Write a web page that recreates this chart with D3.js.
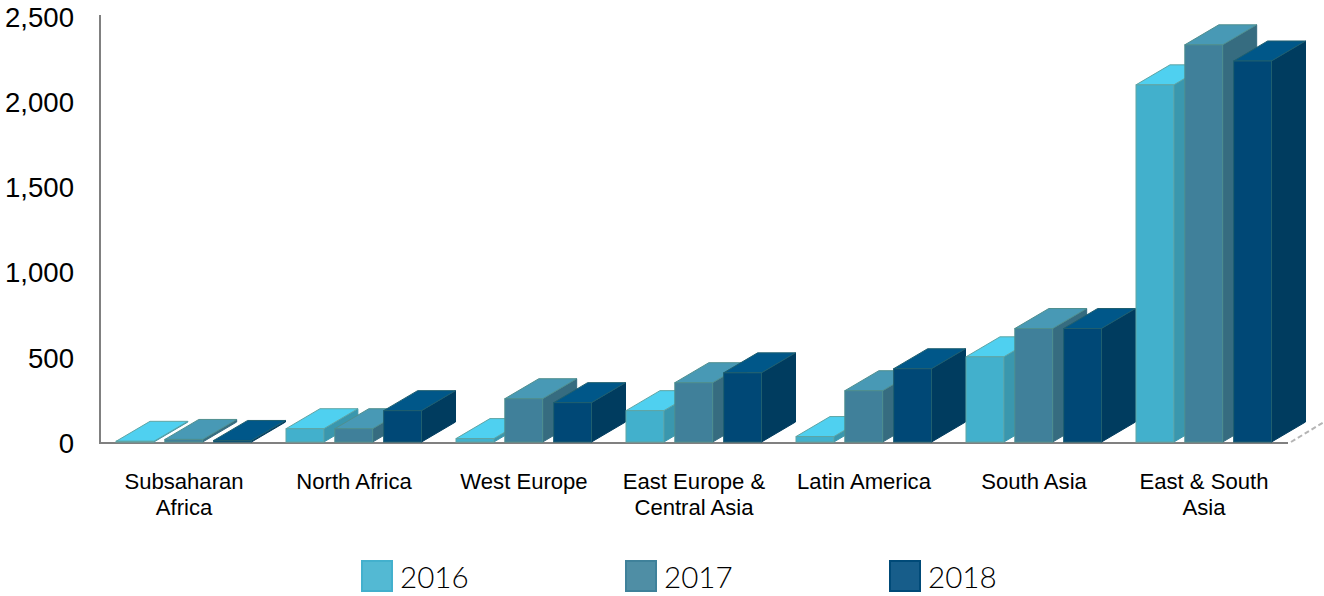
<!DOCTYPE html>
<html>
<head>
<meta charset="utf-8">
<script src="https://cdn.jsdelivr.net/npm/d3@7"></script>
<style>
  html, body { margin: 0; padding: 0; background: #fff; overflow: hidden; }
  .face { stroke-width: 1; }
  .tick-y text { font-family: "Liberation Sans", Arial, sans-serif; font-size: 27.6px; fill: #000; }
  .tick-x text { font-family: "Liberation Sans", Arial, sans-serif; font-size: 22.1px; fill: #000; }
  .legend text { font-family: Lato, sans-serif; font-weight: 300; font-size: 29.6px; fill: #000; }
</style>
</head>
<body>
<div id="chart"></div>
<script>
const categories = [
  "Subsaharan Africa", "North Africa", "West Europe", "East Europe & Central Asia",
  "Latin America", "South Asia", "East & South Asia"
];
const categoryLines = [
  ["Subsaharan", "Africa"], ["North Africa"], ["West Europe"], ["East Europe &", "Central Asia"],
  ["Latin America"], ["South Asia"], ["East & South", "Asia"]
];
const years = ["2016", "2017", "2018"];
const values2016 = [4, 78, 20, 184, 32, 500, 2096];
const values2017 = [15, 78, 254, 348, 301, 666, 2331];
const values2018 = [9, 184, 231, 406, 430, 666, 2236];
const yTicks = [0, 500, 1000, 1500, 2000, 2500];

const series = [values2016, values2017, values2018];
const frontColors = ["#42b0cc", "#40809a", "#004876"];
const topColors = ["#4fd0f0", "#4899b5", "#005789"];
const sideColors = ["#3a97ae", "#366c80", "#003c5f"];
const edgeColors = ["#5fa5a5", "#4f8f8f", "#1f5f6f"];
const legendFill = ["#53b9d3", "#4f8ea5", "#175d8a"];
const legendEdge = ["#43b0cd", "#3f819a", "#004a78"];
const legendX = [361, 625, 889];

const width = 1324, height = 596;
const depthX = 34, depthY = 20;

let svg = d3.select("#chart")
    .append("svg")
    .attr("width", width)
    .attr("height", height)
    .style("display", "block");

let x = d3.scaleBand()
    .domain(categories)
    .range([100, 1290]);

let xInner = d3.scaleBand()
    .domain(years)
    .range([16, 151.5])
    .paddingInner(0.2245);

let y = d3.scaleLinear()
    .domain([0, 2500])
    .range([442, 16]);

// floor edge going back, dashed
svg.append("line")
    .attr("x1", 1291)
    .attr("y1", y(0))
    .attr("x2", 1290 + depthX)
    .attr("y2", y(0) - depthY)
    .attr("stroke", "#b5b5b5")
    .attr("stroke-width", 2)
    .attr("stroke-dasharray", "5,3");

// axes
let yAxis = svg.append("g")
    .attr("class", "tick-y")
    .attr("transform", "translate(100,0)")
    .call(d3.axisLeft(y).tickValues(yTicks).tickFormat(d3.format(",")).tickSize(0).tickPadding(26));
yAxis.select(".domain")
    .attr("d", "M0,15V" + (y(0) + 1))
    .attr("stroke", "#808080")
    .attr("stroke-width", 2);
yAxis.selectAll("text").attr("dy", "0.37em");

let xAxis = svg.append("g")
    .attr("class", "tick-x")
    .attr("transform", "translate(0," + (y(0) + 1) + ")")
    .call(d3.axisBottom(x).tickSize(0));
xAxis.select(".domain")
    .attr("d", "M99,0H1288")
    .attr("stroke", "#808080")
    .attr("stroke-width", 2);
xAxis.selectAll("text")
    .attr("y", 0)
    .attr("dy", 0)
    .text(null)
    .each(function(d, i) {
        d3.select(this).selectAll("tspan")
            .data(categoryLines[i])
            .join("tspan")
            .attr("x", -1)
            .attr("y", (l, j) => 46 + j * 26)
            .text(l => l);
    });

// bars: side and top first, then front, left to right so nearer bars overlap
categories.forEach((cat, c) => {
    years.forEach((year, s) => {
        let x0 = x(cat) + xInner(year);
        let x1 = x0 + xInner.bandwidth();
        let yTop = y(series[s][c]);
        let yBase = y(0);
        let g = svg.append("g").attr("class", "bar");

        g.append("polygon")
            .attr("class", "face")
            .attr("points", [[x1, yTop], [x1 + depthX, yTop - depthY], [x1 + depthX, yBase - depthY], [x1, yBase]].join(" "))
            .attr("fill", sideColors[s])
            .attr("stroke", sideColors[s]);
        g.append("polygon")
            .attr("class", "face")
            .attr("points", [[x0, yTop], [x0 + depthX, yTop - depthY], [x1 + depthX, yTop - depthY], [x1, yTop]].join(" "))
            .attr("fill", topColors[s])
            .attr("stroke", edgeColors[s]);
        g.append("rect")
            .attr("class", "face")
            .attr("x", x0)
            .attr("y", yTop)
            .attr("width", x1 - x0)
            .attr("height", yBase - yTop)
            .attr("fill", frontColors[s])
            .attr("stroke", edgeColors[s]);
    });
});

// legend
let legend = svg.append("g").attr("class", "legend");
years.forEach((year, s) => {
    legend.append("rect")
        .attr("x", legendX[s] + 1)
        .attr("y", 561)
        .attr("width", 30)
        .attr("height", 30)
        .attr("fill", legendFill[s])
        .attr("stroke", legendEdge[s])
        .attr("stroke-width", 2);
    legend.append("text")
        .attr("x", legendX[s] + 39)
        .attr("y", 588)
        .text(year);
});
</script>
</body>
</html>
